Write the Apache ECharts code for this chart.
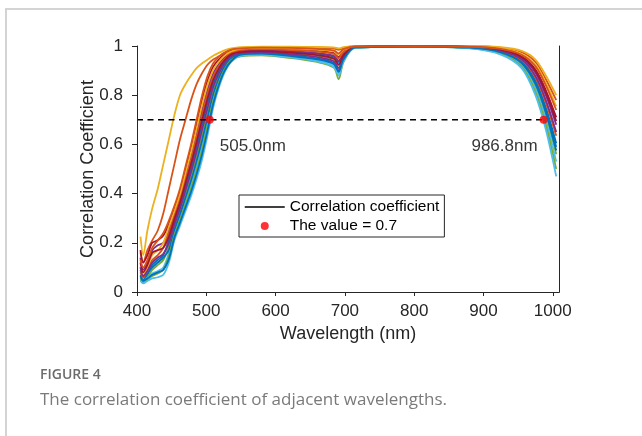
<!DOCTYPE html>
<html>
<head>
<meta charset="utf-8">
<script src="https://cdn.jsdelivr.net/npm/echarts@6.0.0/dist/echarts.min.js"></script>
<style>
  html, body { margin: 0; padding: 0; background: #fff; }
  #chart { width: 642px; height: 436px; }
</style>
</head>
<body>
<div id="chart"></div>
<script>
// wavelength grid (nm) the curves were read at
const wavelengths = [405, 409, 415, 422, 430, 438, 446, 454, 462, 470, 478, 486, 494, 502, 510, 518, 526, 536, 550, 580, 620, 660, 684, 691, 698, 715, 800, 880, 925, 955, 975, 990, 1005];

// two curves that rise early
const edgeOrange = [0.225, 0.15, 0.25, 0.34, 0.42, 0.52, 0.62, 0.72, 0.80, 0.845, 0.88, 0.91, 0.93, 0.945, 0.96, 0.972, 0.982, 0.99, 0.995, 0.997, 0.997, 0.996, 0.994, 0.99, 0.995, 0.999, 1.0, 1.0, 0.995, 0.98, 0.945, 0.88, 0.80];
const edgeRed = [0.16, 0.12, 0.17, 0.21, 0.25, 0.32, 0.42, 0.52, 0.62, 0.70, 0.78, 0.845, 0.89, 0.925, 0.945, 0.958, 0.972, 0.985, 0.992, 0.996, 0.995, 0.993, 0.99, 0.984, 0.992, 0.999, 1.0, 0.999, 0.993, 0.975, 0.935, 0.865, 0.78];

// the main bundle of curves
const c0 = [0.13, 0.10, 0.13, 0.18, 0.21, 0.24, 0.29, 0.35, 0.42, 0.51, 0.60, 0.70, 0.80, 0.88, 0.93, 0.955, 0.972, 0.985, 0.990, 0.993, 0.992, 0.988, 0.982, 0.970, 0.987, 0.998, 0.999, 0.997, 0.988, 0.964, 0.917, 0.84, 0.74];
const c1 = [0.17, 0.12, 0.15, 0.20, 0.21, 0.23, 0.276, 0.339, 0.408, 0.496, 0.583, 0.681, 0.779, 0.861, 0.916, 0.945, 0.965, 0.981, 0.985, 0.988, 0.986, 0.980, 0.971, 0.955, 0.979, 0.997, 0.999, 0.996, 0.984, 0.955, 0.898, 0.81, 0.695];
const c2 = [0.10, 0.07, 0.10, 0.15, 0.17, 0.20, 0.265, 0.329, 0.398, 0.483, 0.569, 0.664, 0.761, 0.844, 0.903, 0.936, 0.960, 0.978, 0.989, 0.992, 0.990, 0.985, 0.979, 0.965, 0.985, 0.998, 0.999, 0.998, 0.989, 0.967, 0.924, 0.85, 0.755];
const c3 = [0.14, 0.09, 0.12, 0.17, 0.19, 0.20, 0.251, 0.318, 0.386, 0.469, 0.552, 0.645, 0.740, 0.825, 0.889, 0.926, 0.953, 0.974, 0.980, 0.983, 0.979, 0.971, 0.960, 0.940, 0.971, 0.996, 0.999, 0.996, 0.983, 0.952, 0.891, 0.80, 0.68];
const c4 = [0.08, 0.06, 0.09, 0.13, 0.15, 0.18, 0.239, 0.308, 0.375, 0.456, 0.537, 0.628, 0.722, 0.808, 0.876, 0.918, 0.947, 0.970, 0.984, 0.987, 0.984, 0.977, 0.968, 0.950, 0.976, 0.997, 0.999, 0.994, 0.979, 0.943, 0.872, 0.77, 0.635];
const c5 = [0.12, 0.08, 0.11, 0.16, 0.17, 0.18, 0.225, 0.297, 0.363, 0.442, 0.520, 0.609, 0.701, 0.789, 0.862, 0.908, 0.941, 0.966, 0.975, 0.979, 0.973, 0.963, 0.949, 0.925, 0.963, 0.996, 0.999, 0.996, 0.985, 0.958, 0.904, 0.82, 0.71];
const c6 = [0.07, 0.05, 0.07, 0.11, 0.13, 0.15, 0.212, 0.286, 0.351, 0.427, 0.503, 0.590, 0.680, 0.770, 0.847, 0.898, 0.934, 0.962, 0.978, 0.982, 0.977, 0.969, 0.956, 0.935, 0.968, 0.996, 0.998, 0.993, 0.975, 0.934, 0.852, 0.74, 0.59];
const c7 = [0.10, 0.065, 0.085, 0.12, 0.14, 0.155, 0.198, 0.274, 0.339, 0.413, 0.487, 0.570, 0.660, 0.750, 0.833, 0.888, 0.928, 0.958, 0.970, 0.974, 0.967, 0.955, 0.938, 0.910, 0.954, 0.995, 0.999, 0.995, 0.980, 0.946, 0.878, 0.78, 0.65];
const c8 = [0.06, 0.045, 0.06, 0.09, 0.11, 0.13, 0.185, 0.263, 0.327, 0.398, 0.470, 0.551, 0.639, 0.731, 0.818, 0.878, 0.921, 0.954, 0.973, 0.977, 0.971, 0.960, 0.945, 0.920, 0.960, 0.995, 0.998, 0.992, 0.973, 0.928, 0.839, 0.72, 0.56];
const c9 = [0.09, 0.06, 0.075, 0.10, 0.12, 0.14, 0.171, 0.252, 0.315, 0.384, 0.453, 0.532, 0.618, 0.712, 0.804, 0.868, 0.915, 0.950, 0.967, 0.970, 0.963, 0.949, 0.931, 0.900, 0.949, 0.994, 0.998, 0.994, 0.976, 0.937, 0.859, 0.75, 0.605];
const c10 = [0.05, 0.04, 0.055, 0.075, 0.085, 0.10, 0.159, 0.242, 0.305, 0.371, 0.438, 0.515, 0.600, 0.695, 0.791, 0.859, 0.909, 0.947, 0.963, 0.967, 0.958, 0.943, 0.923, 0.890, 0.943, 0.994, 0.998, 0.992, 0.970, 0.922, 0.826, 0.70, 0.53];
const c11 = [0.055, 0.04, 0.05, 0.065, 0.075, 0.09, 0.146, 0.231, 0.293, 0.357, 0.422, 0.496, 0.579, 0.676, 0.777, 0.849, 0.902, 0.943, 0.958, 0.962, 0.952, 0.935, 0.912, 0.865, 0.935, 0.993, 0.998, 0.991, 0.968, 0.916, 0.813, 0.68, 0.50];
const c12 = [0.045, 0.035, 0.045, 0.055, 0.06, 0.07, 0.12, 0.21, 0.27, 0.33, 0.39, 0.46, 0.54, 0.64, 0.75, 0.83, 0.89, 0.935, 0.960, 0.964, 0.954, 0.938, 0.916, 0.880, 0.938, 0.993, 0.998, 0.990, 0.965, 0.910, 0.800, 0.66, 0.47];
const c13 = [0.065, 0.045, 0.055, 0.07, 0.08, 0.09, 0.134, 0.221, 0.282, 0.344, 0.407, 0.479, 0.561, 0.659, 0.764, 0.840, 0.897, 0.939, 0.965, 0.969, 0.960, 0.946, 0.927, 0.895, 0.946, 0.994, 0.998, 0.993, 0.974, 0.931, 0.846, 0.73, 0.575];

const thresholdValue = 0.7;
const crossWavelengths = [505.0, 986.8];
const xTicks = [400, 500, 600, 700, 800, 900, 1000];

// matlab default line colours
const palette = ["#0072BD", "#D95319", "#EDB120", "#7E2F8E", "#77AC30", "#4DBEEE", "#A2142F"];
const drawOrder = [c6, edgeRed, edgeOrange, c3, c8, c10, c1, c9, c4, c2, c7, c11, c12, c5, c13, c0];

const ink = "#262626";
const font = "Liberation Sans, Arial, Helvetica, sans-serif";

const chart = echarts.init(document.getElementById("chart"));

// every curve shares one legend name, so colour has to be set per series
const curveSeries = drawOrder.map((vals, i) => ({
  name: "Correlation coefficient",
  type: "line",
  data: wavelengths.map((w, j) => [w, vals[j]]),
  symbol: "none",
  smooth: 0.3,
  itemStyle: { color: palette[i % palette.length] },
  lineStyle: { width: 1.8, color: palette[i % palette.length] },
  silent: true,
  z: 2,
}));

const thresholdLine = {
  name: "threshold",
  type: "line",
  data: [[xTicks[0], thresholdValue], [crossWavelengths[1], thresholdValue]],
  symbol: "none",
  lineStyle: { color: "#000", width: 1.5, type: [6, 4.5] },
  silent: true,
  z: 3,
};

const crossPoints = {
  name: "The value = 0.7",
  type: "scatter",
  symbol: "circle",
  symbolSize: 8,
  itemStyle: { color: "#ff0000" },
  silent: true,
  z: 4,
  data: crossWavelengths.map((w, i) => ({
    value: [w, thresholdValue],
    label: {
      show: true,
      formatter: w.toFixed(1) + "nm",
      position: i === 0 ? [14, 31] : [-2, 31],
      align: i === 0 ? "left" : "right",
      verticalAlign: "middle",
      fontSize: 17,
      color: "#000",
      fontFamily: font,
    },
  })),
};

chart.setOption({
  animation: false,
  backgroundColor: "#fff",
  grid: { left: 137, right: 83, top: 46, bottom: 144 },
  xAxis: [
    {
      type: "value",
      min: 400,
      max: 1009,
      name: "Wavelength (nm)",
      nameLocation: "middle",
      nameGap: 33,
      nameMoveOverlap: false,
      nameTextStyle: { fontSize: 18, color: ink, fontFamily: font },
      axisLine: { show: true, lineStyle: { color: ink, width: 1 } },
      axisTick: { show: true, length: 4, customValues: xTicks, lineStyle: { color: ink } },
      axisLabel: {
        customValues: xTicks,
        margin: 11,
        fontSize: 17,
        color: ink,
        fontFamily: font,
        formatter: (v) => String(v),
      },
      splitLine: { show: false },
      z: 5,
    },
    {
      type: "value",
      position: "top",
      min: 400,
      max: 1009,
      axisLine: { show: true, lineStyle: { color: ink, width: 1 } },
      axisTick: { show: false },
      axisLabel: { show: false },
      splitLine: { show: false },
      z: 5,
    },
  ],
  yAxis: [
    {
      type: "value",
      min: 0,
      max: 1,
      interval: 0.2,
      name: "Correlation Coefficient",
      nameLocation: "middle",
      nameGap: 40,
      nameMoveOverlap: false,
      nameTextStyle: { fontSize: 18, color: ink, fontFamily: font },
      axisLine: { show: true, lineStyle: { color: ink, width: 1 } },
      axisTick: { show: true, length: 5, lineStyle: { color: ink } },
      axisLabel: { margin: 14, fontSize: 17, color: ink, fontFamily: font },
      splitLine: { show: false },
      z: 5,
    },
    {
      type: "value",
      position: "right",
      min: 0,
      max: 1,
      axisLine: { show: true, lineStyle: { color: ink, width: 1 } },
      axisTick: { show: false },
      axisLabel: { show: false },
      splitLine: { show: false },
      z: 5,
    },
  ],
  legend: {
    left: 239,
    top: 195,
    orient: "vertical",
    selectedMode: false,
    itemWidth: 40,
    itemHeight: 8,
    itemGap: 3,
    padding: [4, 5, 3, 5],
    borderColor: ink,
    borderWidth: 1,
    backgroundColor: "#fff",
    textStyle: { fontSize: 15.5, color: "#000", fontFamily: font },
    data: [
      {
        name: "Correlation coefficient",
        itemStyle: { color: "rgba(0,0,0,0)", borderWidth: 0 },
        lineStyle: { color: "#000", width: 1.5 },
      },
      { name: "The value = 0.7", icon: "circle", itemStyle: { color: "#ff0000" } },
    ],
  },
  graphic: [
    {
      type: "rect",
      silent: true,
      z: -10,
      shape: { x: 6, y: 9, width: 700, height: 500 },
      style: { fill: null, stroke: "#d4d4d4", lineWidth: 2 },
    },
    {
      type: "text",
      x: 40,
      y: 368,
      style: { text: "FIGURE 4", fontSize: 14, fontWeight: 600, fontFamily: "Open Sans", fill: "#6b6b6b" },
    },
    {
      type: "text",
      x: 40,
      y: 392,
      style: { text: "The correlation coefficient of adjacent wavelengths.", fontSize: 17, fontFamily: "Open Sans", fill: "#7a7a7a" },
    },
  ],
  series: [...curveSeries, thresholdLine, crossPoints],
});
</script>
</body>
</html>
